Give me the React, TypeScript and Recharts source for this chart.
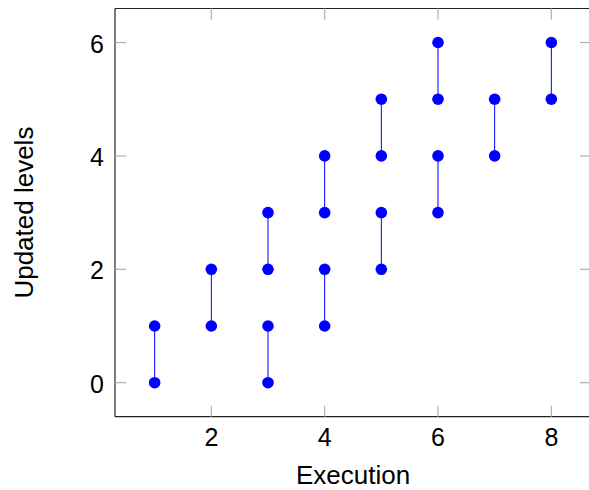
import { ScatterChart, Scatter, XAxis, YAxis, ReferenceLine } from 'recharts'

// one vertical segment per entry: execution index, lower and upper level
const executions = [1, 2, 3, 3, 4, 4, 5, 5, 6, 6, 7, 8]
const lowLevels = [0, 1, 0, 2, 1, 3, 2, 4, 3, 5, 4, 5]
const highLevels = [1, 2, 1, 3, 2, 4, 3, 5, 4, 6, 5, 6]

const xTicks = [2, 4, 6, 8]
const yTicks = [0, 2, 4, 6]
const xDomain = [0.3, 8.7]
const yDomain = [-0.6, 6.6]

const FONT = "'Liberation Sans', Arial, sans-serif"
const BLUE = '#0000ff'
const PLOT_TOP = 8.5
const PLOT_RIGHT = 591
const TICK_LEN = 11

const segments = executions.map((x, i) => [
  { x, y: lowLevels[i] },
  { x, y: highLevels[i] },
])

function YTick({ x, y, payload }: any) {
  return (
    <g>
      <line x1={x} x2={x + TICK_LEN} y1={y} y2={y} stroke='#b0b0b0' strokeWidth={1.2} />
      <line x1={PLOT_RIGHT - TICK_LEN} x2={PLOT_RIGHT} y1={y} y2={y} stroke='#b0b0b0' strokeWidth={1.2} />
      <text x={x - 11} y={y + 10} textAnchor='end' fontSize={25} fontFamily={FONT} fill='#000'>
        {payload.value}
      </text>
    </g>
  )
}

function XTick({ x, y, payload }: any) {
  return (
    <g>
      <line x1={x} x2={x} y1={y - TICK_LEN} y2={y} stroke='#b0b0b0' strokeWidth={1.2} />
      <line x1={x} x2={x} y1={PLOT_TOP} y2={PLOT_TOP + TICK_LEN} stroke='#b0b0b0' strokeWidth={1.2} />
      <text x={x} y={y + 29.5} textAnchor='middle' fontSize={25} fontFamily={FONT} fill='#000'>
        {payload.value}
      </text>
    </g>
  )
}

function Dot({ cx, cy }: any) {
  return <circle cx={cx} cy={cy} r={5.8} fill={BLUE} />
}

function YLabel({ viewBox }: any) {
  const cx = 33.5
  const cy = viewBox.y + viewBox.height / 2
  return (
    <text x={cx} y={cy} transform={`rotate(-90 ${cx} ${cy})`} textAnchor='middle' fontSize={26} fontFamily={FONT} fill='#000'>
      Updated levels
    </text>
  )
}

function XLabel({ viewBox }: any) {
  return (
    <text x={viewBox.x + viewBox.width / 2} y={484} textAnchor='middle' fontSize={26} fontFamily={FONT} fill='#000'>
      Execution
    </text>
  )
}

export default function App() {
  return (
    <div style={{ position: 'absolute', left: 0, top: 0, width: 589, height: 490, overflow: 'hidden', background: '#fff' }}>
      <ScatterChart width={600} height={490} margin={{ top: PLOT_TOP, right: 600 - PLOT_RIGHT, left: 0, bottom: 0 }}>
        <XAxis
          type='number'
          dataKey='x'
          domain={xDomain}
          ticks={xTicks}
          allowDataOverflow
          height={73.3}
          tickSize={0}
          tickMargin={0}
          tickLine={false}
          axisLine={{ stroke: '#222', strokeWidth: 1.2 }}
          tick={<XTick />}
          label={<XLabel />}
        />
        <YAxis
          type='number'
          dataKey='y'
          domain={yDomain}
          ticks={yTicks}
          allowDataOverflow
          width={115}
          tickSize={0}
          tickMargin={0}
          tickLine={false}
          axisLine={{ stroke: '#222', strokeWidth: 1.2 }}
          tick={<YTick />}
          label={<YLabel />}
        />
        <ReferenceLine y={yDomain[1]} stroke='#222' strokeWidth={1.2} />
        <ReferenceLine x={xDomain[1]} stroke='#222' strokeWidth={1.2} />
        {segments.map((seg, i) => (
          <Scatter
            key={i}
            data={seg}
            fill={BLUE}
            line={{ stroke: BLUE, strokeWidth: 1 }}
            shape={<Dot />}
            isAnimationActive={false}
          />
        ))}
      </ScatterChart>
    </div>
  )
}
